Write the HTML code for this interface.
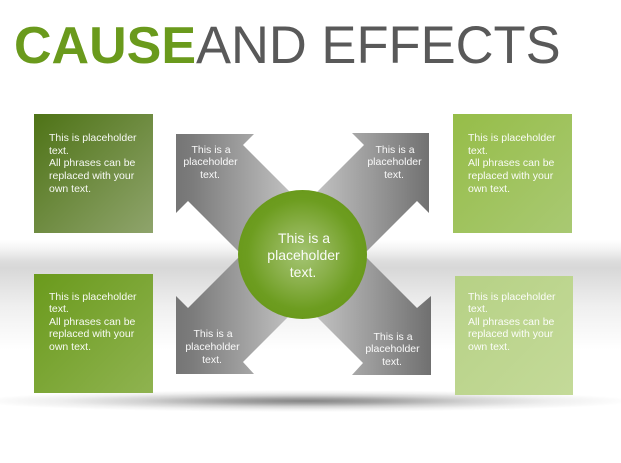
<!DOCTYPE html>
<html>
<head>
<meta charset="utf-8">
<style>
html,body{margin:0;padding:0;background:#fff;}
body{width:621px;height:463px;overflow:hidden;}
svg{display:block;}
text{font-family:"Liberation Sans",sans-serif;}
</style>
</head>
<body>
<svg width="621" height="463" viewBox="0 0 621 463" xmlns="http://www.w3.org/2000/svg">
<defs>
<linearGradient id="band" x1="0" y1="0" x2="0" y2="1">
<stop offset="0" stop-color="#fff"/>
<stop offset="0.08" stop-color="#f4f4f4"/>
<stop offset="0.2" stop-color="#dcdcdc"/>
<stop offset="0.26" stop-color="#d8d8d8"/>
<stop offset="0.6" stop-color="#efefef"/>
<stop offset="1" stop-color="#fff"/>
</linearGradient>
<radialGradient id="shadow" cx="0.5" cy="0.5" r="0.5">
<stop offset="0" stop-color="#858585"/>
<stop offset="0.25" stop-color="#a5a5a5"/>
<stop offset="0.5" stop-color="#d2d2d2"/>
<stop offset="0.75" stop-color="#efefef"/>
<stop offset="1" stop-color="#fff"/>
</radialGradient>
<linearGradient id="gl" gradientUnits="userSpaceOnUse" x1="176" y1="0" x2="290" y2="0">
<stop offset="0" stop-color="#757575"/>
<stop offset="0.15" stop-color="#7c7c7c"/>
<stop offset="1" stop-color="#c0c0c0"/>
</linearGradient>
<linearGradient id="gr" gradientUnits="userSpaceOnUse" x1="318" y1="0" x2="431" y2="0">
<stop offset="0" stop-color="#c0c0c0"/>
<stop offset="0.85" stop-color="#7c7c7c"/>
<stop offset="1" stop-color="#707070"/>
</linearGradient>
<radialGradient id="circ" cx="0.5" cy="0.5" r="0.5">
<stop offset="0" stop-color="#a3c472"/>
<stop offset="0.45" stop-color="#8ab04a"/>
<stop offset="0.85" stop-color="#6d9d20"/>
<stop offset="1" stop-color="#6a9a1c"/>
</radialGradient>
<linearGradient id="b1" x1="0" y1="0" x2="1" y2="1">
<stop offset="0" stop-color="#4e7316"/>
<stop offset="1" stop-color="#8fa46c"/>
</linearGradient>
<linearGradient id="b2" x1="0" y1="0" x2="1" y2="1">
<stop offset="0" stop-color="#6a9a1c"/>
<stop offset="1" stop-color="#8fb350"/>
</linearGradient>
<linearGradient id="b3" x1="0" y1="0" x2="1" y2="1">
<stop offset="0" stop-color="#96bd48"/>
<stop offset="1" stop-color="#a9c973"/>
</linearGradient>
<linearGradient id="b4" x1="0" y1="0" x2="1" y2="1">
<stop offset="0" stop-color="#b6d185"/>
<stop offset="1" stop-color="#c4da99"/>
</linearGradient>
</defs>

<rect x="0" y="240" width="621" height="110" fill="url(#band)"/>
<ellipse cx="305" cy="401" rx="330" ry="11" fill="url(#shadow)"/>

<text x="14" y="63" font-size="52" font-weight="bold" fill="#6a9a1c">CAUSE</text>
<text x="196" y="63" font-size="52.5" fill="#595959">AND EFFECTS</text>

<rect x="34" y="114" width="119" height="119" fill="url(#b1)"/>
<rect x="34" y="274" width="119" height="119" fill="url(#b2)"/>
<rect x="453" y="114" width="119" height="119" fill="url(#b3)"/>
<rect x="455" y="276" width="118" height="119" fill="url(#b4)"/>

<polygon points="176,134 254,134 243,145 295,197 245,258 188,201 176,213" fill="url(#gl)"/>
<polygon points="352,133 429,133 429,213 417,201 360,258 312,197 364,145" fill="url(#gr)"/>
<polygon points="176,296 188,308 245,251 295,310 243,362 254,374 176,374" fill="url(#gl)"/>
<polygon points="360,251 417,308 431,296 431,375 352,375 363,363 312,312" fill="url(#gr)"/>

<circle cx="302.5" cy="254.5" r="64.5" fill="url(#circ)"/>

<g font-size="14" fill="#fff" text-anchor="middle" fill-opacity="0.95">
<text x="304" y="243">This is a</text>
<text x="303.5" y="260">placeholder</text>
<text x="303" y="277">text.</text>
</g>

<g font-size="10.5" fill="#fff" text-anchor="middle" fill-opacity="0.95">
<text x="211" y="153">This is a</text>
<text x="210.5" y="165">placeholder</text>
<text x="210" y="178">text.</text>
<text x="395" y="153">This is a</text>
<text x="394.5" y="165">placeholder</text>
<text x="394" y="178">text.</text>
<text x="213" y="337">This is a</text>
<text x="212.5" y="350">placeholder</text>
<text x="212" y="363">text.</text>
<text x="393" y="340">This is a</text>
<text x="392.5" y="352">placeholder</text>
<text x="392" y="365">text.</text>
</g>

<g font-size="10.5" fill="#fff" fill-opacity="0.95">
<text x="49" y="141">This is placeholder</text>
<text x="49" y="154">text.</text>
<text x="49" y="166">All phrases can be</text>
<text x="49" y="179">replaced with your</text>
<text x="49" y="192">own text.</text>

<text x="49" y="300">This is placeholder</text>
<text x="49" y="312">text.</text>
<text x="49" y="325">All phrases can be</text>
<text x="49" y="337">replaced with your</text>
<text x="49" y="350">own text.</text>

<text x="468" y="141">This is placeholder</text>
<text x="468" y="154">text.</text>
<text x="468" y="166">All phrases can be</text>
<text x="468" y="179">replaced with your</text>
<text x="468" y="192">own text.</text>

<text x="468" y="300">This is placeholder</text>
<text x="468" y="312">text.</text>
<text x="468" y="325">All phrases can be</text>
<text x="468" y="337">replaced with your</text>
<text x="468" y="350">own text.</text>
</g>
</svg>
</body>
</html>
